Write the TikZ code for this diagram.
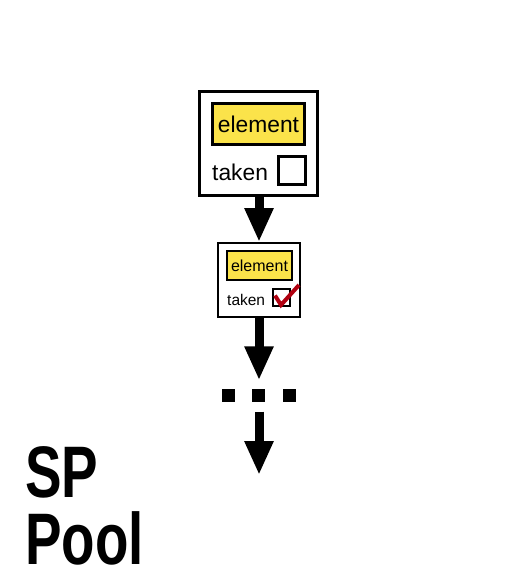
\documentclass[tikz,border=0pt]{standalone}
\usepackage{fontspec}
\setmainfont{Liberation Sans}
\newfontfamily\poolfont{Liberation Sans}[FakeStretch=0.75]
\usetikzlibrary{arrows.meta}
\definecolor{elemyellow}{RGB}{251,227,74}
\definecolor{tickred}{RGB}{176,0,16}
\tikzset{
    entrybox/.style={draw,line width=#1,fill=white,inner sep=0},
    elembox/.style={draw,line width=#1,fill=elemyellow,inner sep=0},
    takenbox/.style={draw,line width=#1,fill=white,inner sep=0},
    flow/.style={line width=9pt,-{Triangle[length=34pt,width=27pt]}},
    dot/.style={fill=black,minimum size=13pt,inner sep=0}
}
\def\flowx{259}

\begin{document}
\begin{tikzpicture}[x=1pt,y=-1pt]
    \useasboundingbox (0,0) rectangle (510,580);
    \node[entrybox=3pt,minimum width=118pt,minimum height=104pt] (big) at (258.5,143.5) {};
    \node[elembox=3pt,minimum width=92pt,minimum height=41pt,font=\fontsize{22.8}{26}\selectfont] (bigelem) at (258.5,124) {element};
    \node[anchor=base west,inner sep=0,font=\fontsize{22.8}{26}\selectfont] (bigtaken) at (212,180) {taken};
    \node[takenbox=3pt,minimum width=27pt,minimum height=28pt] (bigcheck) at (292,170.5) {};
    \node[entrybox=2pt,minimum width=82pt,minimum height=74pt] (small) at (259,280) {};
    \node[elembox=2pt,minimum width=65pt,minimum height=29pt,font=\fontsize{16}{19}\selectfont] (smallelem) at (259.5,265.5) {element};
    \node[anchor=base west,inner sep=0,font=\fontsize{15.5}{18}\selectfont] (smalltaken) at (227,305) {taken};
    \node[takenbox=2pt,minimum width=17pt,minimum height=17pt] (smallcheck) at (281.5,297.5) {};
    \draw[tickred,line width=4pt,line join=miter] (275,295.5) -- (281,305) -- (299,285);
    \foreach \x/\n in {228/A,258.5/B,289.5/C}
        \node[dot] (dot\n) at (\x,395) {};
    \coordinate (last) at (\flowx,475);
    \draw[flow] (big.south -| \flowx,0) -- (small.north -| \flowx,0);
    \draw[flow,shorten >=8pt] (small.south -| \flowx,0) -- (dotB.north -| \flowx,0);
    \draw[flow,shorten <=10pt] (dotB.south -| \flowx,0) -- (last);
    \node[anchor=base west,inner sep=0,align=left,text depth=0pt,font=\poolfont\bfseries\fontsize{73}{67}\selectfont] (pool) at (25,564) {SP\\Pool};
\end{tikzpicture}
\end{document}
